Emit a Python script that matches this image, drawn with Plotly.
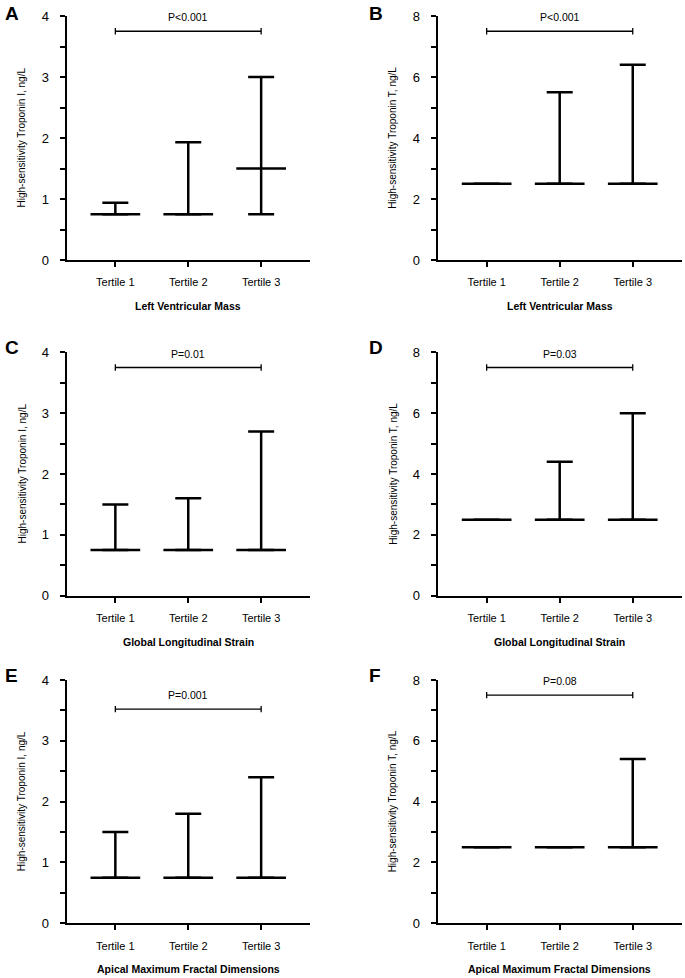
import plotly.graph_objects as go

# ---------------- data ----------------
categories = ["Tertile 1", "Tertile 2", "Tertile 3"]
panel_letters = ["A", "B", "C", "D", "E", "F"]
x_titles = ["Left Ventricular Mass", "Left Ventricular Mass",
            "Global Longitudinal Strain", "Global Longitudinal Strain",
            "Apical Maximum Fractal Dimensions", "Apical Maximum Fractal Dimensions"]
y_title_I = "High-sensitivity Troponin I, ng/L"
y_title_T = "High-sensitivity Troponin T, ng/L"

median_A = [0.75, 0.75, 1.5]
q1_A = [0.75, 0.75, 0.75]
q3_A = [0.94, 1.93, 3.0]

median_B = [2.5, 2.5, 2.5]
q1_B = [2.5, 2.5, 2.5]
q3_B = [2.5, 5.5, 6.4]

median_C = [0.75, 0.75, 0.75]
q1_C = [0.75, 0.75, 0.75]
q3_C = [1.5, 1.6, 2.7]

median_D = [2.5, 2.5, 2.5]
q1_D = [2.5, 2.5, 2.5]
q3_D = [2.5, 4.4, 6.0]

median_E = [0.75, 0.75, 0.75]
q1_E = [0.75, 0.75, 0.75]
q3_E = [1.5, 1.8, 2.4]

median_F = [2.5, 2.5, 2.5]
q1_F = [2.5, 2.5, 2.5]
q3_F = [2.5, 2.5, 5.4]

p_labels = ["P<0.001", "P<0.001", "P=0.01", "P=0.03", "P=0.001", "P=0.08"]
bracket_levels = [3.75, 7.5, 3.75, 7.5, 3.52, 7.5]
y_max = [4, 8, 4, 8, 4, 8]

medians = [median_A, median_B, median_C, median_D, median_E, median_F]
q1s = [q1_A, q1_B, q1_C, q1_D, q1_E, q1_F]
q3s = [q3_A, q3_B, q3_C, q3_D, q3_E, q3_F]
y_titles = [y_title_I, y_title_T] * 3

# ---------------- layout geometry (pixels) ----------------
W, H = 685, 978
col_x = [(66.5, 310.0), (437.7, 681.7)]
row_y = [(16.0, 260.0), (352.3, 595.7), (680.0, 923.3)]
letter_x = [3, 367]
letter_yc = [13.5, 347.5, 675]

FONT = "Arial, 'Liberation Sans', Helvetica, sans-serif"

def px_x(p):
    return p / W

def px_y(p):
    return 1 - p / H

fig = go.Figure()
annotations = []

for i in range(6):
    r, c = divmod(i, 2)
    sfx = "" if i == 0 else str(i + 1)
    xa, ya = "x" + sfx, "y" + sfx

    med, lo, hi = medians[i], q1s[i], q3s[i]
    err_plus = [h - m for h, m in zip(hi, med)]
    err_minus = [m - l for m, l in zip(med, lo)]

    fig.add_trace(go.Scatter(
        x=categories, y=med, xaxis=xa, yaxis=ya, mode="markers",
        marker=dict(symbol="line-ew", size=35.5, color="black",
                    line=dict(width=2.5, color="black")),
        error_y=dict(type="data", symmetric=False, array=err_plus,
                     arrayminus=err_minus, width=13, thickness=2.5,
                     color="black"),
        showlegend=False, hoverinfo="skip", cliponaxis=False,
    ))

    b = bracket_levels[i]
    fig.add_trace(go.Scatter(
        x=[categories[0], categories[2]], y=[b, b], xaxis=xa, yaxis=ya,
        mode="lines+markers",
        line=dict(color="black", width=1.3),
        marker=dict(symbol="line-ns", size=4.5, color="black",
                    line=dict(width=1.3, color="black")),
        showlegend=False, hoverinfo="skip", cliponaxis=False,
    ))

    x0, x1 = col_x[c]
    y0, y1 = row_y[r]
    is_I = (y_max[i] == 4)
    fig.update_layout(**{
        "xaxis" + sfx: dict(
            domain=[px_x(x0), px_x(x1)], anchor=ya, automargin=False,
            type="category", range=[-0.67, 2.67],
            showline=True, linecolor="black", linewidth=2,
            ticks="outside", ticklen=5, tickwidth=2, tickcolor="black",
            tickfont=dict(size=11, color="black", family=FONT),
            ticklabelstandoff=6,
            showgrid=False, zeroline=False, fixedrange=True,
        ),
        "yaxis" + sfx: dict(
            domain=[px_y(y1), px_y(y0)], anchor=xa, automargin=False,
            range=[0, y_max[i]],
            tick0=0, dtick=1 if is_I else 2,
            minor=dict(dtick=0.5 if is_I else 1, ticks="outside", ticklen=5,
                       tickwidth=2, tickcolor="black", showgrid=False),
            showline=True, linecolor="black", linewidth=2,
            ticks="outside", ticklen=5, tickwidth=2, tickcolor="black",
            tickfont=dict(size=13, color="black", family=FONT),
            ticklabelstandoff=8,
            showgrid=False, zeroline=False, fixedrange=True,
        ),
    })

    # P-value label
    annotations.append(dict(
        x=categories[1], y=b, xref=xa, yref=ya, text=p_labels[i],
        showarrow=False, yanchor="middle", xanchor="center", yshift=14,
        font=dict(size=10.5, color="black", family=FONT),
    ))
    # y title
    annotations.append(dict(
        x=px_x(x0 - 45), y=px_y((y0 + y1) / 2), xref="paper", yref="paper",
        text=y_titles[i], textangle=-90, showarrow=False,
        xanchor="center", yanchor="middle",
        font=dict(size=10, color="black", family=FONT),
    ))
    # x title
    annotations.append(dict(
        x=categories[1], y=px_y(y1 + 46), xref=xa, yref="paper",
        text="<b>" + x_titles[i] + "</b>", showarrow=False,
        xanchor="center", yanchor="middle",
        font=dict(size=10.5, color="black", family=FONT),
    ))
    # panel letter
    annotations.append(dict(
        x=px_x(letter_x[c]), y=px_y(letter_yc[r]), xref="paper", yref="paper",
        text="<b>" + panel_letters[i] + "</b>", showarrow=False,
        xanchor="left", yanchor="middle",
        font=dict(size=19, color="black", family=FONT),
    ))

fig.update_layout(
    width=W, height=H, margin=dict(l=0, r=0, t=0, b=0, autoexpand=False),
    paper_bgcolor="white", plot_bgcolor="white",
    annotations=annotations, showlegend=False,
    font=dict(family=FONT, color="black"),
)

fig.write_html(
    "out.html",
    config={"displayModeBar": False, "staticPlot": True},
    post_script="document.body.style.margin='0';document.body.style.overflow='hidden';",
)
